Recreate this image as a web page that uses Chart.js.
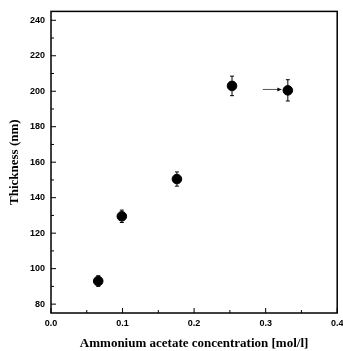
<!DOCTYPE html>
<html><head><meta charset="utf-8">
<script src="https://cdn.jsdelivr.net/npm/chart.js@4.4.1/dist/chart.umd.min.js"></script>
<style>html,body{margin:0;padding:0;background:#fff;}#wrap{width:343px;height:351px;}</style>
</head><body><div id="wrap"><canvas id="c" width="343" height="351"></canvas></div>
<script>
const concentration = [0.066, 0.099, 0.176, 0.253, 0.331];
const thickness = [93, 129.5, 150.5, 203, 200.5];
const thicknessErr = [3, 3.5, 4, 5.5, 6];
const arrowX = [0.296, 0.322];
const arrowY = [201, 201];
const xTicks = [0, 0.1, 0.2, 0.3, 0.4];
const yTicks = [80, 100, 120, 140, 160, 180, 200, 220, 240];
const xMinor = [0.05, 0.15, 0.25, 0.35];
const yMinor = [90, 110, 130, 150, 170, 190, 210, 230];

const framePlugin = {
  id: 'frame',
  afterDatasetsDraw(chart) {
    const {ctx, chartArea: a, scales: {x, y}} = chart;
    ctx.save();
    ctx.strokeStyle = '#000';
    ctx.lineWidth = 1.5;
    ctx.strokeRect(a.left, a.top, a.right - a.left, a.bottom - a.top);
    ctx.lineWidth = 1;
    ctx.beginPath();
    xTicks.forEach(v => { const px = x.getPixelForValue(v); ctx.moveTo(px, a.bottom); ctx.lineTo(px, a.bottom - 5); });
    xMinor.forEach(v => { const px = x.getPixelForValue(v); ctx.moveTo(px, a.bottom); ctx.lineTo(px, a.bottom - 3); });
    yTicks.forEach(v => { const py = y.getPixelForValue(v); ctx.moveTo(a.left, py); ctx.lineTo(a.left + 5, py); });
    yMinor.forEach(v => { const py = y.getPixelForValue(v); ctx.moveTo(a.left, py); ctx.lineTo(a.left + 3, py); });
    ctx.stroke();
    // error bars
    ctx.lineWidth = 1;
    ctx.beginPath();
    concentration.forEach((c, i) => {
      const px = x.getPixelForValue(c);
      const yt = y.getPixelForValue(thickness[i] + thicknessErr[i]);
      const yb = y.getPixelForValue(thickness[i] - thicknessErr[i]);
      ctx.moveTo(px, yt); ctx.lineTo(px, yb);
      ctx.moveTo(px - 2, yt); ctx.lineTo(px + 2, yt);
      ctx.moveTo(px - 2, yb); ctx.lineTo(px + 2, yb);
    });
    ctx.stroke();
    // arrow head
    const ax = x.getPixelForValue(arrowX[1]), ay = y.getPixelForValue(arrowY[1]);
    ctx.fillStyle = '#000';
    ctx.beginPath();
    ctx.moveTo(ax, ay); ctx.lineTo(ax - 4, ay - 2); ctx.lineTo(ax - 4, ay + 2); ctx.closePath(); ctx.fill();
    ctx.restore();
  }
};

new Chart(document.getElementById('c'), {
  type: 'scatter',
  data: {
    datasets: [
      {
        data: concentration.map((c, i) => ({x: c, y: thickness[i]})),
        backgroundColor: '#000', borderColor: '#000',
        pointRadius: 4.8, pointHoverRadius: 4.8, showLine: false
      },
      {
        data: arrowX.map((v, i) => ({x: v, y: arrowY[i]})),
        showLine: true, borderColor: '#555', borderWidth: 1, pointRadius: 0
      }
    ]
  },
  options: {
    responsive: false, animation: false, devicePixelRatio: 1,
    layout: {padding: {top: 7, right: 2, left: 0, bottom: 0}},
    plugins: {legend: {display: false}, tooltip: {enabled: false}},
    scales: {
      x: {
        type: 'linear', min: 0, max: 0.4,
        afterBuildTicks(s) { s.ticks = xTicks.map(v => ({value: v})); },
        afterFit(s) { s.height = 38; s.paddingRight = 0; s.paddingLeft = 0; },
        grid: {display: false, drawTicks: false},
        border: {display: false},
        ticks: {color: '#000', font: {family: 'Liberation Sans', size: 9, weight: 'bold'}, padding: 5,
          callback: v => v.toFixed(1)},
        title: {display: true, text: 'Ammonium acetate concentration [mol/l]', color: '#000',
          font: {family: 'Liberation Serif', size: 13, weight: 'bold'}, padding: {top: 6, bottom: 0}}
      },
      y: {
        type: 'linear', min: 75, max: 245,
        afterBuildTicks(s) { s.ticks = yTicks.map(v => ({value: v})); },
        afterFit(s) { s.width = 51; },
        grid: {display: false, drawTicks: false},
        border: {display: false},
        ticks: {color: '#000', font: {family: 'Liberation Sans', size: 9, weight: 'bold'}, padding: 6},
        title: {display: true, text: 'Thickness (nm)', color: '#000',
          font: {family: 'Liberation Serif', size: 13, weight: 'bold'}, padding: {top: 7, bottom: 0}}
      }
    }
  },
  plugins: [framePlugin]
});
</script></body></html>
